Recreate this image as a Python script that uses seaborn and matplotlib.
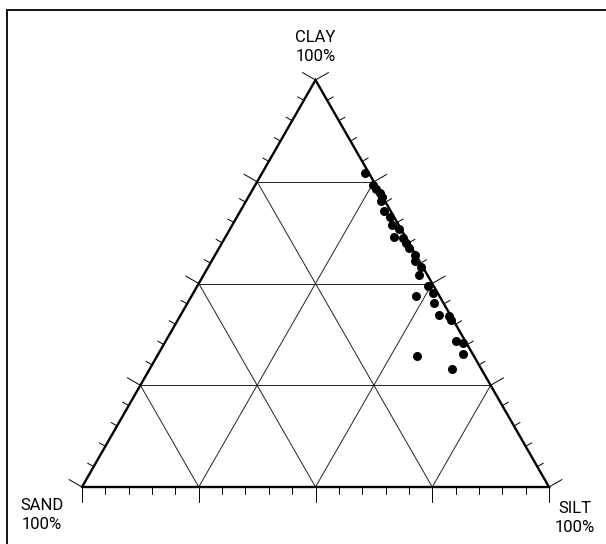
import numpy as np
import pandas as pd
import seaborn as sns
import matplotlib
matplotlib.use("Agg")
from matplotlib import pyplot as plt
from matplotlib.lines import Line2D

# soil samples, percent
clay = [77.1, 74.2, 73.2, 72.2, 71.3, 70.3, 67.8, 66.3, 64.4, 63.4, 61.4, 61.2, 60.0,
        58.7, 57.0, 55.5, 54.1, 52.1, 49.4, 46.9, 47.7, 45.2, 42.3, 42.0, 41.0, 35.9,
        35.4, 32.7, 32.2, 29.0]
silt = [22.1, 25.2, 26.4, 27.7, 28.6, 28.9, 30.8, 32.8, 34.2, 36.2, 36.1, 38.1, 39.4,
        40.7, 42.8, 43.6, 45.5, 46.1, 49.4, 48.1, 51.3, 52.8, 55.3, 57.6, 58.5, 62.1,
        63.9, 65.2, 55.6, 64.7]
grid_levels = [25, 50, 75]
tick_step = 5
corner_labels = ["SAND\n100%", "SILT\n100%", "CLAY\n100%"]

df = pd.DataFrame({"clay": clay, "silt": silt})
df["sand"] = 100 - df["clay"] - df["silt"]
df["x"] = (df["silt"] + df["clay"] / 2) / 100
df["y"] = df["clay"] / 100

sns.set_style("white")
plt.rcParams['font.family'] = ['Roboto', 'DejaVu Sans']

W, H = 606, 544
fig = plt.figure(figsize=(W / 100, H / 100), dpi=100)
ax_w, ax_h = 467, 407
ax = fig.add_axes([82 / W, (H - 487) / H, ax_w / W, ax_h / H])
ax.set_xlim(0, 1)
ax.set_ylim(0, 1)
ax.axis("off")

# frame
fig.add_artist(Line2D([7 / W, 1.01], [1 - 10 / H, 1 - 10 / H], color="black", lw=1.3))
fig.add_artist(Line2D([7 / W, 7 / W], [1 - 10 / H, -0.01], color="black", lw=1.3))

# grid
for g in grid_levels:
    v = g / 100
    ax.plot([v / 2, 1 - v / 2], [v, v], color="#222222", lw=0.7)
    ax.plot([v, v + (1 - v) / 2], [0, 1 - v], color="#222222", lw=0.7)
    ax.plot([1 - v, (1 - v) / 2], [0, 1 - v], color="#222222", lw=0.7)

# edges
ax.plot([0, 1, 0.5, 0], [0, 0, 1, 0], color="black", lw=1.7, solid_joinstyle="miter",
        clip_on=False)

# ticks (lengths in pixels, perpendicular to edges)
nrm = np.hypot(ax_h, ax_w / 2)
left_dir = (-ax_h / nrm, (ax_w / 2) / nrm)
right_dir = (ax_h / nrm, (ax_w / 2) / nrm)
for k in range(0, 101, tick_step):
    f = k / 100
    L = 15 if k % 25 == 0 else 7
    # bottom
    ax.plot([f, f], [0, -L / ax_h], color="black", lw=0.7, clip_on=False)
    # left
    x0, y0 = f / 2, f
    ax.plot([x0, x0 + left_dir[0] * L / ax_w], [y0, y0 + left_dir[1] * L / ax_h],
            color="black", lw=0.7, clip_on=False)
    # right
    x0 = 1 - f / 2
    ax.plot([x0, x0 + right_dir[0] * L / ax_w], [y0, y0 + right_dir[1] * L / ax_h],
            color="black", lw=0.7, clip_on=False)

sns.scatterplot(data=df, x="x", y="y", color="black", s=42, linewidth=0, ax=ax,
                clip_on=False, zorder=5)

txt = dict(ha="center", va="center", fontsize=12, linespacing=1.35, color="black")
ax.text(-0.0857, -0.069, corner_labels[0], **txt)
ax.text(1.056, -0.076, corner_labels[1], **txt)
ax.text(0.5, 1.082, corner_labels[2], **txt)

fig.savefig("out.png", dpi=100)
